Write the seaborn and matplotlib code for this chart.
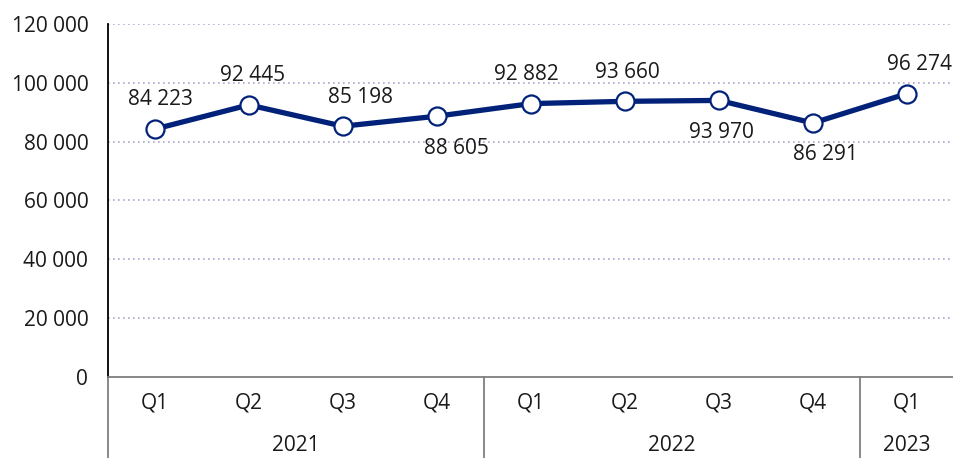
import numpy as np
import pandas as pd
import matplotlib
matplotlib.use("Agg")
import matplotlib.pyplot as plt
import matplotlib.transforms as mtransforms
import seaborn as sns

quarters = ["Q1", "Q2", "Q3", "Q4", "Q1", "Q2", "Q3", "Q4", "Q1"]
years = ["2021", "2022", "2023"]
year_counts = [4, 4, 1]
values = [84223, 92445, 85198, 88605, 92882, 93660, 93970, 86291, 96274]
label_below = [False, False, False, True, False, False, True, True, False]
# small horizontal nudges of the value labels (points)
label_dx = [4, 3, 13, 14, -3, 2, 2, 9, 9]

df = pd.DataFrame({"pos": np.arange(len(values)), "value": values})

sns.set_style("white")
plt.rcParams["font.family"] = ["Open Sans", "DejaVu Sans"]
plt.rcParams["font.size"] = 15

navy = "#02227a"
txt = "#1a1a1a"
fig = plt.figure(figsize=(9.54, 4.58), dpi=100)
ax = fig.add_axes([0.113, 0.177, 0.887, 0.771])

sns.lineplot(data=df, x="pos", y="value", ax=ax, color=navy, linewidth=3.8,
             marker="o", markersize=13, markerfacecolor="white",
             markeredgecolor=navy, markeredgewidth=1.6, zorder=3)

fmt = lambda v: f"{v:,.0f}".replace(",", " ")
for x, v, below, dx in zip(df["pos"], df["value"], label_below, label_dx):
    ax.annotate(fmt(v), (x, v), xytext=(dx, -23 if below else 21),
                textcoords="offset points", ha="center", va="center",
                fontsize=15, color=txt)

ax.set_xlim(-0.5, len(values) - 0.5)
ax.set_ylim(0, 120000)
ax.set_yticks(range(0, 120001, 20000))
ax.set_yticklabels([fmt(t) for t in range(0, 120001, 20000)])
ax.yaxis.grid(True, linestyle=(0, (1, 2)), color="#a9a9cc", linewidth=1.2)
ax.set_xticks(df["pos"])
ax.set_xticklabels(quarters)
ax.tick_params(axis="y", length=0, pad=14, labelsize=15, labelcolor=txt)
ax.tick_params(axis="x", length=0, pad=11, labelsize=15, labelcolor=txt)
ax.set_xlabel("")
ax.set_ylabel("")

for s in ["top", "right"]:
    ax.spines[s].set_visible(False)
ax.spines["left"].set_color("black")
ax.spines["left"].set_linewidth(1.3)
ax.spines["bottom"].set_color("#7f7f7f")
ax.spines["bottom"].set_linewidth(1.3)

# multi-level category axis
trans = mtransforms.blended_transform_factory(ax.transData, ax.transAxes)
start = -0.5
bounds = [start]
for y, n in zip(years, year_counts):
    mid = start + n / 2
    ax.text(mid, -0.193, y, transform=trans, ha="center", va="center",
            fontsize=15, color=txt)
    start += n
    bounds.append(start)
for b in bounds[:-1]:
    ax.plot([b, b], [0, -0.25], transform=trans, color="#7f7f7f",
            linewidth=1.3, clip_on=False)

fig.savefig("out.png", dpi=100)
